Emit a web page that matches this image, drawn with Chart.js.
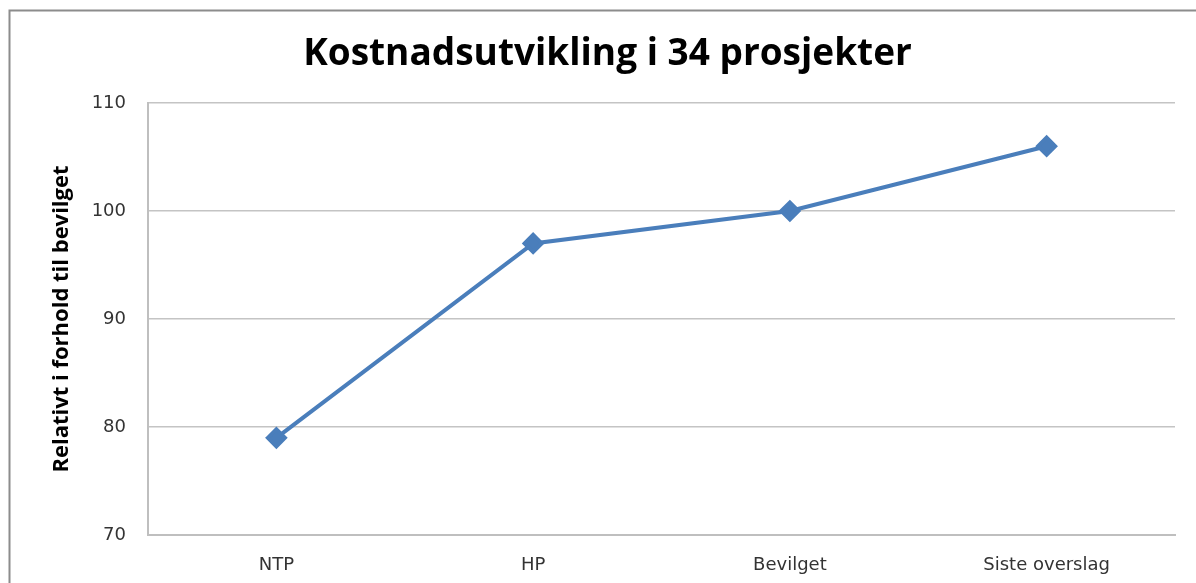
<!DOCTYPE html>
<html lang="en">
<head>
    <meta charset="UTF-8">
    <title>Kostnadsutvikling i 34 prosjekter</title>
    <script src="https://cdn.jsdelivr.net/npm/chart.js"></script>
    <style>
        body {
            margin: 0;
            background-color: #fff;
        }
        #wrap {
            width: 1196px;
            height: 583px;
        }
    </style>
</head>
<body>
    <div id="wrap"><canvas id="costChart" width="1196" height="583"></canvas></div>

    <script>
        const categories = ['NTP', 'HP', 'Bevilget', 'Siste overslag'];
        const relativeValues = [79, 97, 100, 106];
        const yTicks = [70, 80, 90, 100, 110];

        // grey frame around the whole chart (only top and left are visible in the crop)
        const framePlugin = {
            id: 'frame',
            beforeDraw(chart) {
                const c = chart.ctx;
                c.save();
                c.strokeStyle = '#8c8c8c';
                c.lineWidth = 2;
                c.beginPath();
                c.moveTo(9.5, chart.height + 5);
                c.lineTo(9.5, 10.5);
                c.lineTo(chart.width + 5, 10.5);
                c.stroke();
                c.restore();
            }
        };

        const ctx = document.getElementById('costChart').getContext('2d');
        const costChart = new Chart(ctx, {
            type: 'line',
            data: {
                labels: categories,
                datasets: [{
                    label: 'Relativt i forhold til bevilget',
                    data: relativeValues,
                    borderColor: '#4a7ebb',
                    backgroundColor: '#4a7ebb',
                    borderWidth: 4,
                    pointStyle: 'rectRot',
                    pointRadius: 8.5,
                    pointHoverRadius: 8.5,
                    tension: 0,
                    fill: false
                }]
            },
            options: {
                responsive: false,
                animation: false,
                layout: {
                    padding: { left: 40, right: 21, top: 0, bottom: 0 }
                },
                plugins: {
                    legend: { display: false },
                    tooltip: { enabled: false },
                    title: {
                        display: true,
                        text: 'Kostnadsutvikling i 34 prosjekter',
                        color: '#000',
                        font: { family: 'Open Sans', size: 37, weight: 'bold' },
                        padding: { top: 32, bottom: 26.6 }
                    }
                },
                scales: {
                    x: {
                        offset: true,
                        grid: { display: false, drawTicks: false },
                        border: { color: '#bfbfbf', width: 2 },
                        ticks: {
                            color: '#333',
                            font: { family: 'DejaVu Sans', size: 18 },
                            padding: 20
                        },
                        afterFit(scale) { scale.height = 48; }
                    },
                    y: {
                        min: 70,
                        max: 110,
                        afterBuildTicks(scale) {
                            scale.ticks = yTicks.map(v => ({ value: v }));
                        },
                        grid: { color: '#c4c4c4', lineWidth: 1.5, drawTicks: false },
                        border: { color: '#bfbfbf', width: 2 },
                        ticks: {
                            color: '#333',
                            font: { family: 'DejaVu Sans', size: 18 },
                            padding: 22
                        },
                        title: {
                            display: true,
                            text: 'Relativt i forhold til bevilget',
                            color: '#000',
                            font: { family: 'Open Sans', size: 22, weight: 'bold' },
                            padding: { top: 9, bottom: 0 }
                        },
                        afterFit(scale) { scale.width = 108; }
                    }
                }
            },
            plugins: [framePlugin]
        });
    </script>
</body>
</html>
